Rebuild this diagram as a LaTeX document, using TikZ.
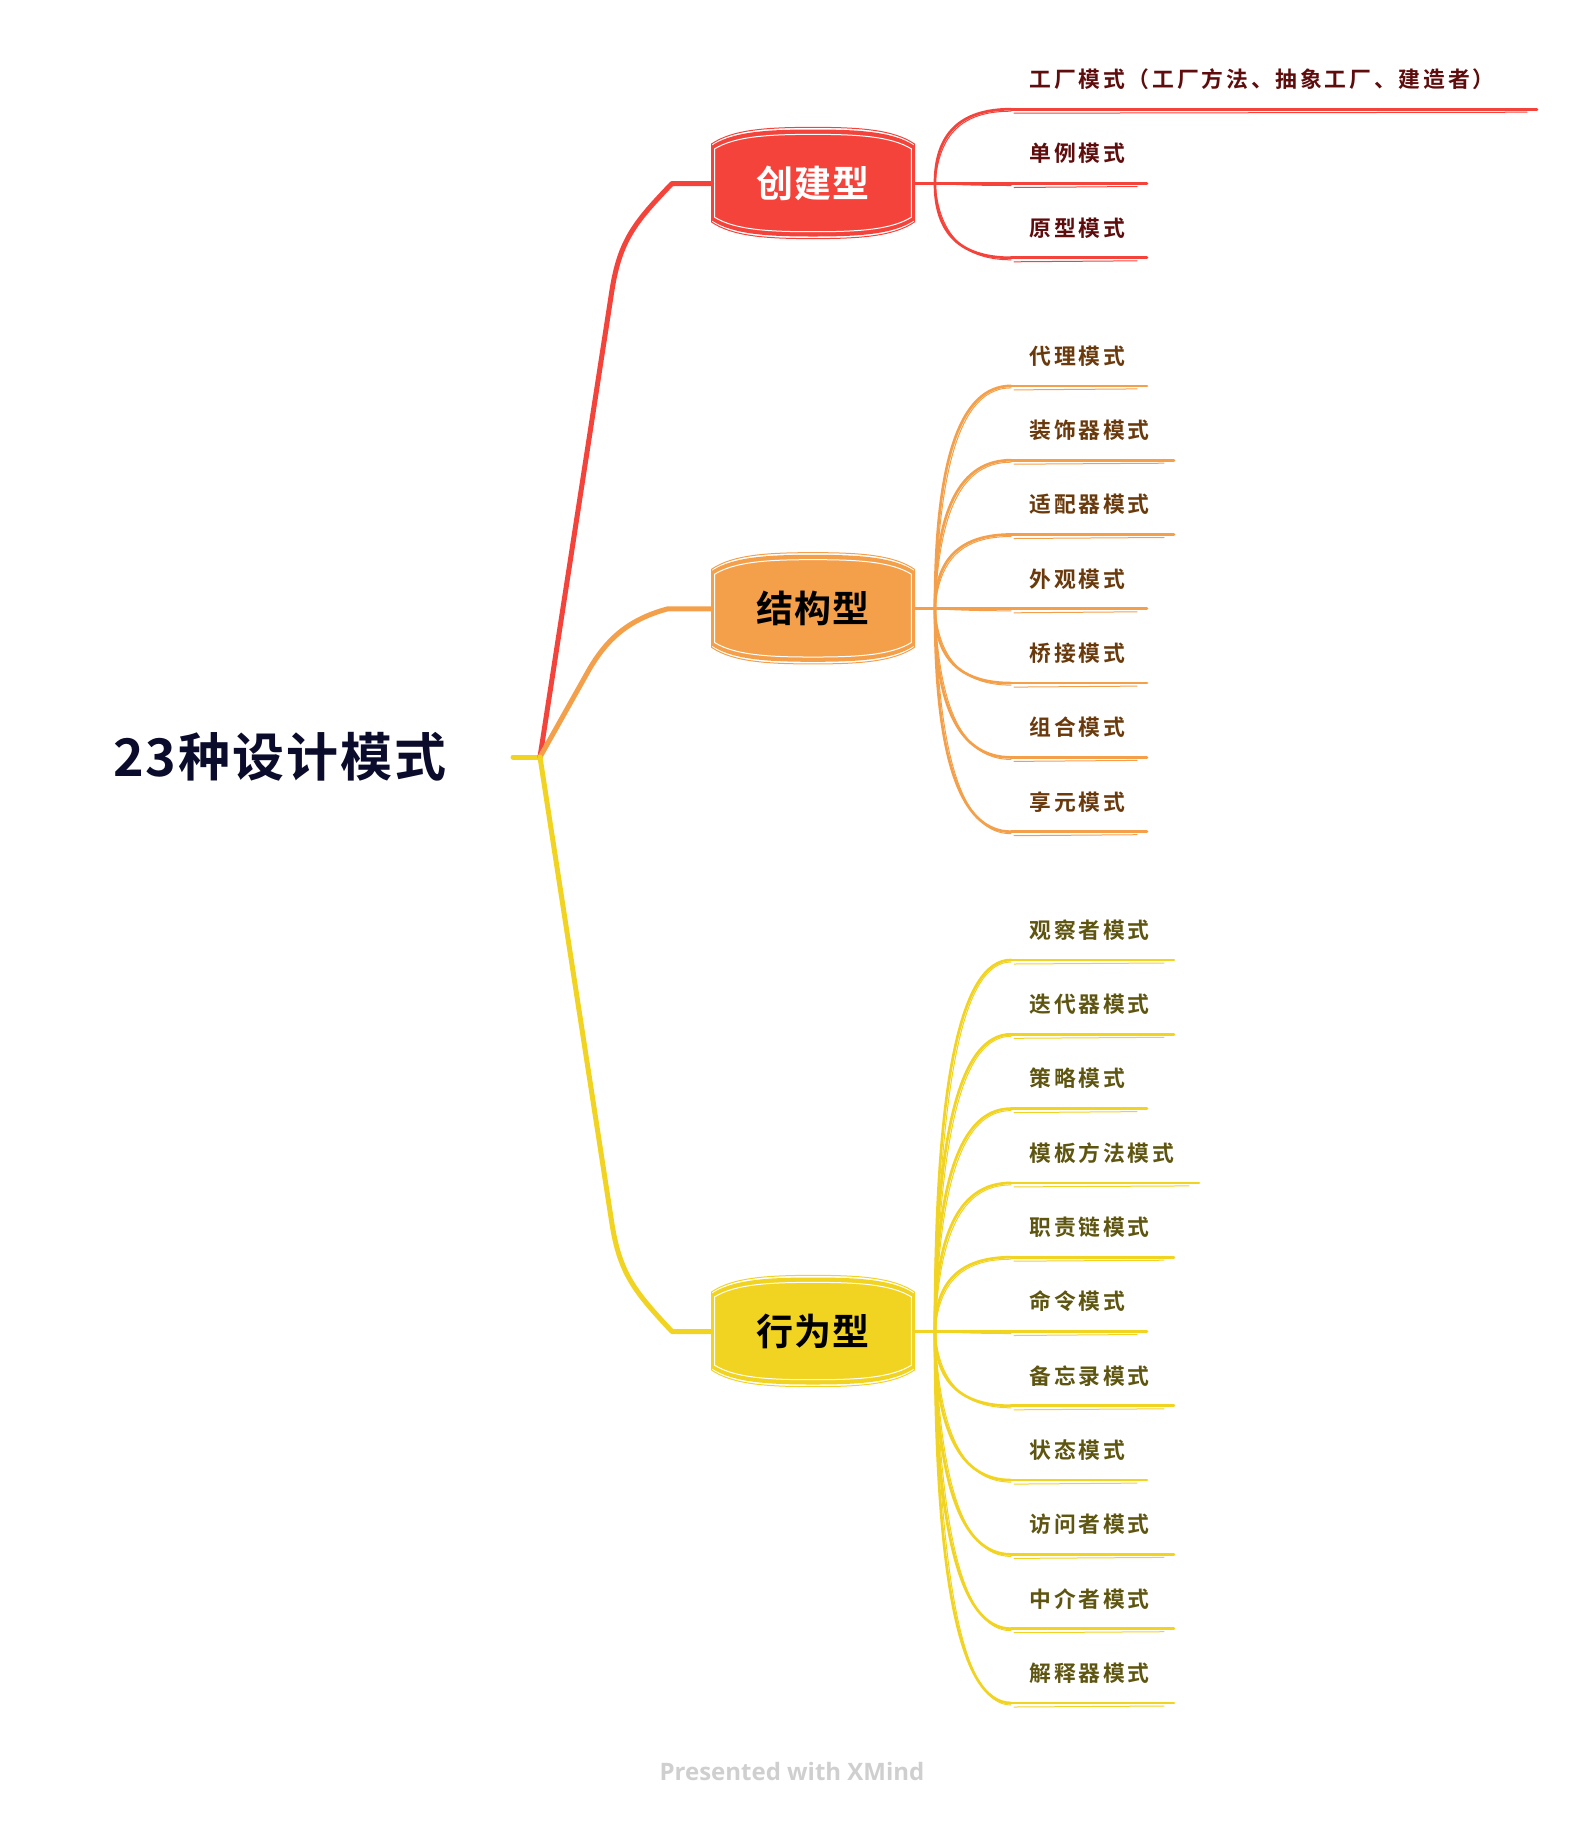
\documentclass[tikz,border=0pt]{standalone}
\usepackage{fontspec}
\newfontfamily\rootfont{Noto Sans CJK SC}[UprightFont={* Bold}, LetterSpace=4]
\newfontfamily\topicfontfam{Noto Sans CJK SC}[UprightFont={* Bold}, LetterSpace=3]
\newfontfamily\leaffontfam{Noto Sans CJK SC}[UprightFont={* Bold}, LetterSpace=13]
\newfontfamily\footfontfam{Open Sans}[UprightFont={* Bold}]
\newcommand\rootfnt{\rootfont\fontsize{26pt}{30pt}\selectfont}
\newcommand\topicfnt{\topicfontfam\fontsize{18.5pt}{22pt}\selectfont}
\newcommand\leaffnt{\leaffontfam\fontsize{10.9pt}{13pt}\selectfont}
\newcommand\footfnt{\footfontfam\fontsize{12pt}{14pt}\selectfont}

\definecolor{cred}{HTML}{F4433B}
\definecolor{corange}{HTML}{F4A04B}
\definecolor{cyellow}{HTML}{F1D322}
\definecolor{tred}{HTML}{5E0C0C}
\definecolor{torange}{HTML}{6A3A0C}
\definecolor{tyellow}{HTML}{5E5510}
\definecolor{troot}{HTML}{0B0B2B}
\definecolor{footgrey}{HTML}{CFCFCF}

\tikzset{
  stem/.style={line width=2.5pt, line cap=round, line join=round},
  twig/.style={line width=1.35pt, line cap=round, line join=round},
  twigthin/.style={line width=0.5pt, line cap=round},
  leaf/.style={anchor=west, inner sep=0pt, font=\leaffnt},
  topic/.style={minimum width=101pt, minimum height=53pt, inner sep=0pt, font=\topicfnt},
}

% sketchy topic outline, drawn around a centre point
\newcommand\topicblob[3]{%
  \begin{scope}[shift={(#1,#2)}]
    \fill[#3] (-101,-38) .. controls (-80,-52) and (-45,-54) .. (0,-54)
      .. controls (45,-54) and (80,-52) .. (101,-38) -- (101,37)
      .. controls (80,51) and (45,53) .. (0,53)
      .. controls (-45,53) and (-80,51) .. (-101,37) -- cycle;
    \draw[white, line width=0.5pt, xscale=0.975, yscale=0.91]
      (-101,-38) .. controls (-80,-52) and (-45,-54) .. (0,-54)
      .. controls (45,-54) and (80,-52) .. (101,-38) -- (101,37)
      .. controls (80,51) and (45,53) .. (0,53)
      .. controls (-45,53) and (-80,51) .. (-101,37) -- cycle;
    \draw[#3, line width=0.5pt, xscale=1.005, yscale=1.04]
      (-101,-38) .. controls (-80,-52) and (-45,-54) .. (0,-54)
      .. controls (45,-54) and (80,-52) .. (101,-38) -- (101,37)
      .. controls (80,51) and (45,53) .. (0,53)
      .. controls (-45,53) and (-80,51) .. (-101,37) -- cycle;
  \end{scope}}

\begin{document}
\begin{tikzpicture}[x=0.5pt,y=-0.5pt]
\useasboundingbox (0,0) rectangle (1586,1822);

% root
\node[font=\rootfnt, text=troot, inner sep=0pt] (root) at (280,757) {23种设计模式};
\coordinate (stub) at (513,757);
\coordinate (hub) at (540,757);

% topics
\topicblob{813}{183.5}{cred}
\topicblob{813}{608.8}{corange}
\topicblob{813}{1331.5}{cyellow}
\node[topic, text=white] (t1) at (813,183.5) {创建型};
\node[topic, text=black] (t2) at (813,608.8) {结构型};
\node[topic, text=black] (t3) at (813,1331.5) {行为型};

% main branches
\draw[stem, cyellow] (stub) -- (hub);
\draw[stem, cred] (hub) -- (612,290) .. controls (620,240) and (635,222) .. (672,183.5) -- (t1.west);
\draw[stem, corange] (hub) -- (590,668) .. controls (605,643) and (625,620) .. (668,608.8) -- (t2.west);
\draw[stem, cyellow] (hub) -- (612,1224) .. controls (620,1274) and (635,1292) .. (672,1331.5) -- (t3.west);

% branch points
\coordinate (b1) at (935,183.5);
\coordinate (b2) at (935,608.8);
\coordinate (b3) at (935,1331.5);
\draw[twig, cred] (t1.east) -- (b1);
\draw[twig, corange] (t2.east) -- (b2);
\draw[twig, cyellow] (t3.east) -- (b3);

% creational
\foreach \lab/\ex [count=\i] in {工厂模式（工厂方法、抽象工厂、建造者）/1537, 单例模式/1147, 原型模式/1147}{
  \pgfmathsetmacro\ly{183.5+(\i-2)*74.3}
  \coordinate (r\i-a) at (1011,\ly);
  \coordinate (r\i-b) at (\ex,\ly);
  \draw[twig, cred] (b1) .. controls (935,{183.5+2/3*(\ly-183.5)}) and (960,\ly) .. (r\i-a);
  \draw[twigthin, cred] (b1) .. controls (939,{183.5+2/3*(\ly-183.5)}) and (962,{\ly+2}) .. ([yshift=-1pt]r\i-a);
  \draw[twig, cred] (r\i-a) -- (r\i-b);
  \draw[twigthin, cred] ([shift={(3,4)}]r\i-a) -- ([shift={(-10,3)}]r\i-b);
  \node[leaf, text=tred] (r\i-t) at (1029,\ly-30) {\lab};
}

% structural
\foreach \lab/\ex [count=\i] in {代理模式/1147, 装饰器模式/1174, 适配器模式/1174, 外观模式/1147, 桥接模式/1147, 组合模式/1147, 享元模式/1147}{
  \pgfmathsetmacro\ly{608.8+(\i-4)*74.3}
  \coordinate (s\i-a) at (1011,\ly);
  \coordinate (s\i-b) at (\ex,\ly);
  \draw[twig, corange] (b2) .. controls (935,{608.8+2/3*(\ly-608.8)}) and (960,\ly) .. (s\i-a);
  \draw[twigthin, corange] (b2) .. controls (939,{608.8+2/3*(\ly-608.8)}) and (962,{\ly+2}) .. ([yshift=-1pt]s\i-a);
  \draw[twig, corange] (s\i-a) -- (s\i-b);
  \draw[twigthin, corange] ([shift={(3,4)}]s\i-a) -- ([shift={(-10,3)}]s\i-b);
  \node[leaf, text=torange] (s\i-t) at (1029,\ly-30) {\lab};
}

% behavioural
\foreach \lab/\ex [count=\i] in {观察者模式/1174, 迭代器模式/1174, 策略模式/1147, 模板方法模式/1199, 职责链模式/1174, 命令模式/1147, 备忘录模式/1174, 状态模式/1147, 访问者模式/1174, 中介者模式/1174, 解释器模式/1174}{
  \pgfmathsetmacro\ly{1331.5+(\i-6)*74.3}
  \coordinate (v\i-a) at (1011,\ly);
  \coordinate (v\i-b) at (\ex,\ly);
  \draw[twig, cyellow] (b3) .. controls (935,{1331.5+2/3*(\ly-1331.5)}) and (960,\ly) .. (v\i-a);
  \draw[twigthin, cyellow] (b3) .. controls (939,{1331.5+2/3*(\ly-1331.5)}) and (962,{\ly+2}) .. ([yshift=-1pt]v\i-a);
  \draw[twig, cyellow] (v\i-a) -- (v\i-b);
  \draw[twigthin, cyellow] ([shift={(3,4)}]v\i-a) -- ([shift={(-10,3)}]v\i-b);
  \node[leaf, text=tyellow] (v\i-t) at (1029,\ly-30) {\lab};
}

% footer
\node[font=\footfnt, text=footgrey, inner sep=0pt] (credit) at (792,1771) {Presented with XMind};
\end{tikzpicture}
\end{document}
